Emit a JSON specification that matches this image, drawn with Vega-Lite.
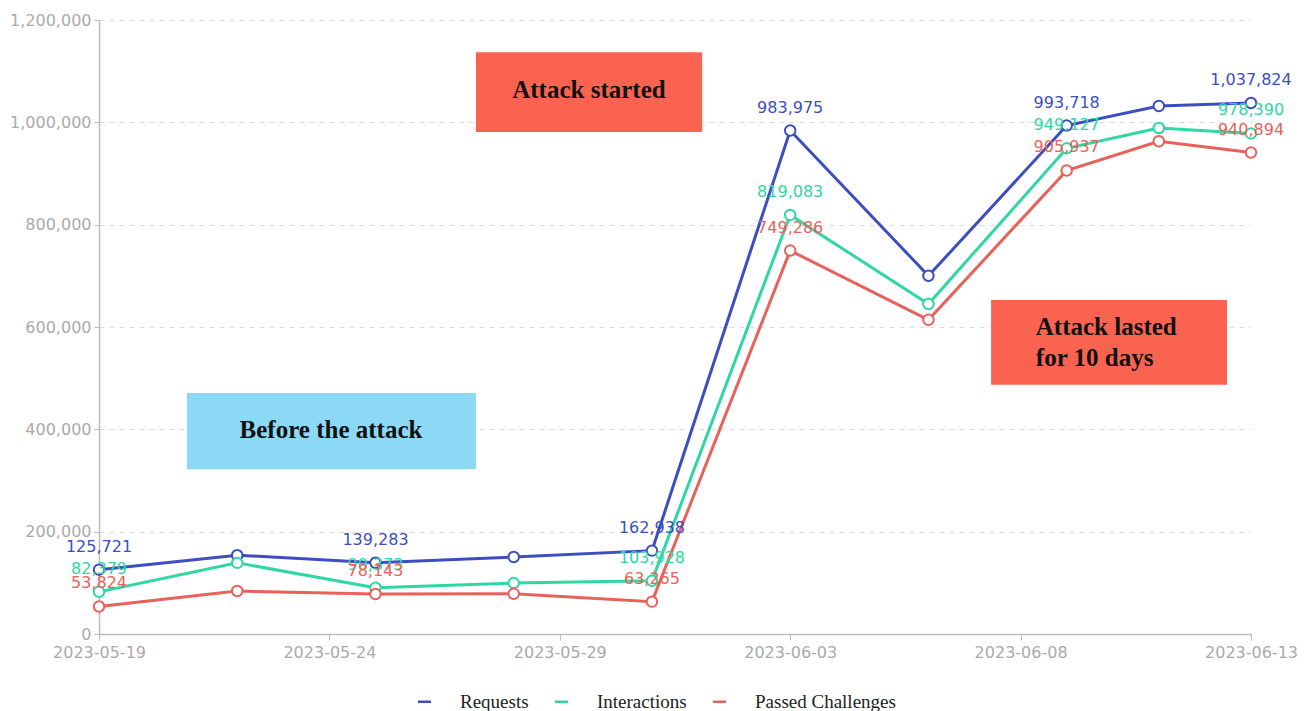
{
  "$schema": "https://vega.github.io/schema/vega-lite/v6.json",
  "width": 1152,
  "height": 614,
  "autosize": {"type": "none"},
  "padding": {"left": 99, "top": 20, "right": 65, "bottom": 77},
  "background": "white",
  "config": {"view": {"stroke": null}},
  "datasets": {
    "series": [
      {"date": "2023-05-19", "series": "Requests", "value": 125721},
      {"date": "2023-05-22", "series": "Requests", "value": 154000},
      {"date": "2023-05-25", "series": "Requests", "value": 139283},
      {"date": "2023-05-28", "series": "Requests", "value": 150500},
      {"date": "2023-05-31", "series": "Requests", "value": 162938},
      {"date": "2023-06-03", "series": "Requests", "value": 983975},
      {"date": "2023-06-06", "series": "Requests", "value": 700000},
      {"date": "2023-06-09", "series": "Requests", "value": 993718},
      {"date": "2023-06-11", "series": "Requests", "value": 1032000},
      {"date": "2023-06-13", "series": "Requests", "value": 1037824},
      {"date": "2023-05-19", "series": "Interactions", "value": 82379},
      {"date": "2023-05-22", "series": "Interactions", "value": 139000},
      {"date": "2023-05-25", "series": "Interactions", "value": 90373},
      {"date": "2023-05-28", "series": "Interactions", "value": 99500},
      {"date": "2023-05-31", "series": "Interactions", "value": 103928},
      {"date": "2023-06-03", "series": "Interactions", "value": 819083},
      {"date": "2023-06-06", "series": "Interactions", "value": 645000},
      {"date": "2023-06-09", "series": "Interactions", "value": 949127},
      {"date": "2023-06-11", "series": "Interactions", "value": 989000},
      {"date": "2023-06-13", "series": "Interactions", "value": 978390},
      {"date": "2023-05-19", "series": "Passed Challenges", "value": 53824},
      {"date": "2023-05-22", "series": "Passed Challenges", "value": 84000},
      {"date": "2023-05-25", "series": "Passed Challenges", "value": 78143},
      {"date": "2023-05-28", "series": "Passed Challenges", "value": 78500},
      {"date": "2023-05-31", "series": "Passed Challenges", "value": 63265},
      {"date": "2023-06-03", "series": "Passed Challenges", "value": 749286},
      {"date": "2023-06-06", "series": "Passed Challenges", "value": 614000},
      {"date": "2023-06-09", "series": "Passed Challenges", "value": 905937},
      {"date": "2023-06-11", "series": "Passed Challenges", "value": 963000},
      {"date": "2023-06-13", "series": "Passed Challenges", "value": 940894}
    ],
    "boxes": [
      {"kind": "attack", "date": "2023-05-27T04:19:00Z", "date2": "2023-06-01T02:10:00Z", "value": 981000, "value2": 1137000},
      {"kind": "before", "date": "2023-05-20T21:50:00Z", "date2": "2023-05-27T04:19:00Z", "value": 322000, "value2": 471000},
      {"kind": "attack", "date": "2023-06-07T08:38:00Z", "date2": "2023-06-12T11:31:00Z", "value": 487000, "value2": 653000}
    ],
    "notes": [
      {"date": "2023-05-29T15:10:00Z", "value": 1063000, "note": "Attack started"},
      {"date": "2023-05-24T00:50:00Z", "value": 398000, "note": "Before the attack"}
    ],
    "notes2": [
      {"date": "2023-06-08T07:55:00Z", "value": 600000, "note": "Attack lasted\nfor 10 days"}
    ]
  },
  "encoding": {
    "x": {
      "field": "date",
      "type": "temporal",
      "title": null,
      "scale": {"type": "utc", "domain": [{"year": 2023, "month": 5, "date": 19, "utc": true}, {"year": 2023, "month": 6, "date": 13, "utc": true}], "nice": false},
      "axis": {
        "values": [
          {"year": 2023, "month": 5, "date": 19, "utc": true},
          {"year": 2023, "month": 5, "date": 24, "utc": true},
          {"year": 2023, "month": 5, "date": 29, "utc": true},
          {"year": 2023, "month": 6, "date": 3, "utc": true},
          {"year": 2023, "month": 6, "date": 8, "utc": true},
          {"year": 2023, "month": 6, "date": 13, "utc": true}
        ],
        "format": "%Y-%m-%d",
        "grid": false,
        "domainColor": "#bbbbbb",
        "domainWidth": 1.5,
        "tickColor": "#bbbbbb",
        "tickSize": 6,
        "labelColor": "#aaaaaa",
        "labelFont": "DejaVu Sans",
        "labelFontSize": 16,
        "labelPadding": 4,
        "labelFlush": false
      }
    },
    "y": {
      "field": "value",
      "type": "quantitative",
      "title": null,
      "scale": {"domain": [0, 1200000], "nice": false},
      "axis": {
        "values": [0, 200000, 400000, 600000, 800000, 1000000, 1200000],
        "format": ",d",
        "grid": true,
        "gridColor": "#dddddd",
        "gridDash": [5, 5],
        "domainColor": "#bbbbbb",
        "domainWidth": 1.5,
        "tickColor": "#bbbbbb",
        "tickSize": 5,
        "labelColor": "#aaaaaa",
        "labelFont": "DejaVu Sans",
        "labelFontSize": 16,
        "labelPadding": 3
      }
    }
  },
  "layer": [
    {
      "data": {"name": "boxes", "format": {"parse": {"date": "date", "date2": "date"}}},
      "mark": {"type": "rect"},
      "encoding": {
        "x2": {"field": "date2"},
        "y2": {"field": "value2"},
        "fill": {"field": "kind", "type": "nominal", "scale": {"domain": ["attack", "before"], "range": ["#FA6350", "#8CD9F6"]}, "legend": null}
      }
    },
    {
      "data": {"name": "notes", "format": {"parse": {"date": "date"}}},
      "mark": {"type": "text", "font": "Liberation Serif", "fontWeight": "bold", "fontSize": 25, "fill": "#111111", "align": "center", "baseline": "middle"},
      "encoding": {
        "text": {"field": "note"}
      }
    },
    {
      "data": {"name": "notes2", "format": {"parse": {"date": "date"}}},
      "mark": {"type": "text", "font": "Liberation Serif", "fontWeight": "bold", "fontSize": 25, "fill": "#111111", "align": "left", "baseline": "middle", "lineBreak": "\n", "lineHeight": 31},
      "encoding": {
        "text": {"field": "note"}
      }
    },
    {
      "data": {"name": "series", "format": {"parse": {"date": "date"}}},
      "layer": [
        {
          "mark": {"type": "line", "strokeWidth": 3},
          "encoding": {
            "color": {
              "field": "series",
              "type": "nominal",
              "scale": {"domain": ["Requests", "Interactions", "Passed Challenges"], "range": ["#3D4EC1", "#2FD7A3", "#E8625A"]},
              "legend": {
                "title": null,
                "orient": "none",
                "legendX": 316,
                "legendY": 672,
                "direction": "horizontal",
                "symbolType": "stroke",
                "symbolSize": 170,
                "symbolStrokeWidth": 2.5,
                "labelFont": "Liberation Serif",
                "labelFontSize": 19,
                "labelColor": "#222222",
                "labelOffset": 26,
                "columnPadding": 20
              }
            }
          }
        },
        {
          "mark": {"type": "point", "shape": "circle", "filled": true, "fill": "white", "size": 110, "strokeWidth": 2, "opacity": 1},
          "encoding": {
            "stroke": {"field": "series", "type": "nominal", "scale": {"domain": ["Requests", "Interactions", "Passed Challenges"], "range": ["#3D4EC1", "#2FD7A3", "#E8625A"]}, "legend": null}
          }
        },
        {
          "transform": [
            {"filter": "indexof(['2023-05-19','2023-05-25','2023-05-31','2023-06-03','2023-06-09','2023-06-13'], utcFormat(datum.date, '%Y-%m-%d')) >= 0"}
          ],
          "mark": {"type": "text", "font": "DejaVu Sans", "fontSize": 16, "baseline": "bottom", "dy": -15, "align": "center"},
          "encoding": {
            "text": {"field": "value", "type": "quantitative", "format": ","},
            "color": {"field": "series", "type": "nominal", "legend": null}
          }
        }
      ]
    }
  ]
}
